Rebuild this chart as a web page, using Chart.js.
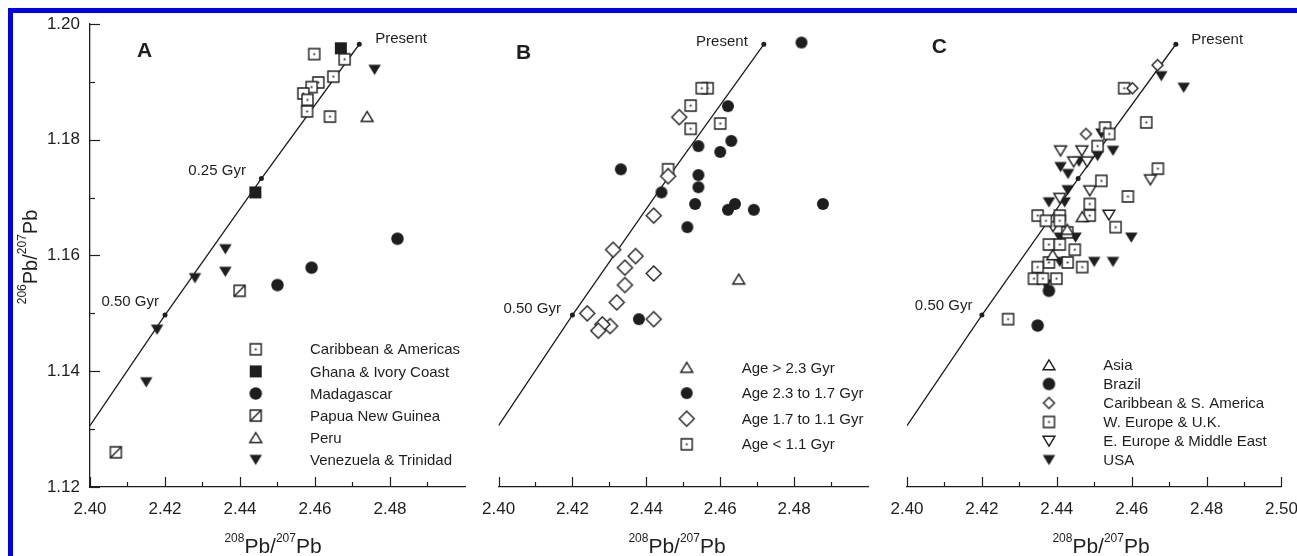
<!DOCTYPE html>
<html>
<head>
<meta charset="utf-8">
<script src="https://cdn.jsdelivr.net/npm/chart.js@4.4.0/dist/chart.umd.min.js"></script>
<style>
  html, body { margin: 0; padding: 0; background: #fff; overflow: hidden; }
  #marco { position: absolute; left: 8px; top: 8px; width: 1300px; height: 560px;
           border-top: 5px solid #0000f0; border-left: 5px solid #0000f0; }
  canvas { position: absolute; top: 0; }
</style>
</head>
<body>
<div id="marco"></div>
<canvas id="panelA" width="480" height="556" style="left:0px"></canvas>
<canvas id="panelB" width="410" height="556" style="left:470px"></canvas>
<canvas id="panelC" width="440" height="556" style="left:870px"></canvas>
<script>
// Límites de los ejes
var rangoX = [2.40, 2.50];
var rangoY = [1.12, 1.20];
var pasoEtiquetas = 0.02;

// Curva de evolución (2.40, 0.50 Gyr, 0.25 Gyr, presente)
var curvaX = [2.400, 2.420, 2.4457, 2.4718];
var curvaY = [1.1306, 1.1497, 1.1733, 1.1965];

// Panel A: por origen
var caribeAmericas = [[2.4598,1.1948],[2.4679,1.1939],[2.4649,1.1909],[2.4609,1.1899],[2.4591,1.1891],
                      [2.4569,1.1880],[2.4580,1.1869],[2.4579,1.1849],[2.4640,1.1840]];
var ghanaCostaMarfil = [[2.4669,1.1958],[2.4441,1.1709]];
var madagascar = [[2.4820,1.1629],[2.4591,1.1579],[2.4500,1.1549]];
var papuaNuevaGuinea = [[2.4399,1.1539],[2.4069,1.1260]];
var peru = [[2.4739,1.1840]];
var venezuelaTrinidad = [[2.4759,1.1921],[2.4361,1.1611],[2.4361,1.1572],[2.4280,1.1561],[2.4179,1.1472],[2.4150,1.1381]];

// Panel B: por edad
var edadMayor23 = [[2.4650,1.1559]];
var edad23a17 = [[2.4820,1.1968],[2.4621,1.1858],[2.4630,1.1798],[2.4541,1.1789],[2.4600,1.1779],[2.4331,1.1749],
                 [2.4541,1.1739],[2.4541,1.1718],[2.4441,1.1709],[2.4532,1.1689],[2.4640,1.1689],[2.4621,1.1679],
                 [2.4691,1.1679],[2.4878,1.1689],[2.4511,1.1649],[2.4380,1.1490]];
var edad17a11 = [[2.4489,1.1839],[2.4459,1.1737],[2.4420,1.1669],[2.4310,1.1610],[2.4371,1.1599],[2.4342,1.1579],
                 [2.4420,1.1569],[2.4342,1.1549],[2.4320,1.1519],[2.4240,1.1500],[2.4302,1.1478],[2.4281,1.1481],
                 [2.4270,1.1470],[2.4420,1.1490]];
var edadMenor11 = [[2.4566,1.1889],[2.4550,1.1889],[2.4520,1.1859],[2.4600,1.1828],[2.4520,1.1819],[2.4459,1.1749]];

// Panel C: por región
var asia = [[2.4468,1.1667],[2.4428,1.1645],[2.4389,1.1601]];
var brasil = [[2.4379,1.1539],[2.4349,1.1479]];
var caribeSudamerica = [[2.4669,1.1929],[2.4602,1.1889],[2.4478,1.1810]];
var europaOccRU = [[2.4580,1.1889],[2.4639,1.1830],[2.4529,1.1821],[2.4540,1.1810],[2.4509,1.1789],[2.4670,1.1750],
                   [2.4519,1.1729],[2.4590,1.1702],[2.4488,1.1689],[2.4349,1.1669],[2.4408,1.1669],[2.4371,1.1660],
                   [2.4408,1.1660],[2.4488,1.1669],[2.4557,1.1649],[2.4428,1.1640],[2.4379,1.1619],[2.4408,1.1619],
                   [2.4448,1.1610],[2.4379,1.1588],[2.4429,1.1588],[2.4468,1.1580],[2.4349,1.1580],[2.4339,1.1560],
                   [2.4363,1.1560],[2.4399,1.1560],[2.4270,1.1490]];
var europaOrMedioOriente = [[2.4410,1.1781],[2.4467,1.1781],[2.4445,1.1762],[2.4481,1.1762],[2.4650,1.1731],
                            [2.4488,1.1712],[2.4408,1.1699],[2.4539,1.1670],[2.4390,1.1650]];
var eeuu = [[2.4679,1.1910],[2.4739,1.1890],[2.4519,1.1811],[2.4550,1.1781],[2.4509,1.1772],[2.4459,1.1762],
            [2.4410,1.1753],[2.4430,1.1741],[2.4429,1.1713],[2.4379,1.1692],[2.4421,1.1692],[2.4599,1.1631],
            [2.4408,1.1631],[2.4450,1.1631],[2.4408,1.1589],[2.4500,1.1589],[2.4550,1.1589],[2.4371,1.1550]];

var FUENTE = '"Liberation Sans", Arial, sans-serif';
var TINTA = '#1e1e1e';
Chart.defaults.font.family = FUENTE;
Chart.defaults.color = TINTA;

// Dibuja un marcador en un canvas pequeño (se usa como pointStyle)
function marcador(tipo, s) {
    var c = document.createElement('canvas');
    var n = Math.ceil(s + 4);
    c.width = n; c.height = n;
    var g = c.getContext('2d');
    var m = n / 2, h = s / 2;
    g.lineWidth = 1.4;
    g.strokeStyle = TINTA;
    g.fillStyle = '#fff';
    g.beginPath();
    switch (tipo) {
        case 'cuadroPunto':
            g.rect(m - h, m - h, s, s); g.fill(); g.stroke();
            g.fillStyle = TINTA; g.fillRect(m - 0.9, m - 0.9, 1.8, 1.8);
            break;
        case 'cuadroLleno':
            g.rect(m - h, m - h, s, s); g.fillStyle = TINTA; g.fill();
            break;
        case 'cuadroDiagonal':
            g.rect(m - h, m - h, s, s); g.fill(); g.stroke();
            g.beginPath(); g.moveTo(m - h, m + h); g.lineTo(m + h, m - h); g.stroke();
            break;
        case 'circulo':
            g.arc(m, m, h, 0, Math.PI * 2); g.fillStyle = TINTA; g.fill();
            break;
        case 'triangulo':
            g.moveTo(m, m - h * 0.85); g.lineTo(m + h, m + h * 0.8); g.lineTo(m - h, m + h * 0.8); g.closePath();
            g.fill(); g.stroke();
            break;
        case 'trianguloAbajo':
            g.moveTo(m - h, m - h * 0.8); g.lineTo(m + h, m - h * 0.8); g.lineTo(m, m + h * 0.85); g.closePath();
            g.fillStyle = TINTA; g.fill();
            break;
        case 'trianguloAbajoAbierto':
            g.moveTo(m - h, m - h * 0.8); g.lineTo(m + h, m - h * 0.8); g.lineTo(m, m + h * 0.85); g.closePath();
            g.fill(); g.stroke();
            break;
        case 'rombo':
            g.moveTo(m, m - h); g.lineTo(m + h, m); g.lineTo(m, m + h); g.lineTo(m - h, m); g.closePath();
            g.fill(); g.stroke();
            break;
    }
    return c;
}

function serie(etiqueta, puntos, estilo) {
    return {
        label: etiqueta,
        data: puntos.map(function (p) { return {x: p[0], y: p[1]}; }),
        pointStyle: estilo,
        pointRadius: 6,
        pointHoverRadius: 6
    };
}

function serieCurva(radios) {
    var puntos = [];
    for (var i = 0; i < curvaX.length; i++) puntos.push({x: curvaX[i], y: curvaY[i]});
    return {
        label: '',
        esCurva: true,
        data: puntos,
        showLine: true,
        tension: 0,
        borderColor: TINTA,
        borderWidth: 1.3,
        pointStyle: 'circle',
        pointRadius: radios,
        pointHoverRadius: radios,
        pointBackgroundColor: TINTA,
        pointBorderWidth: 0
    };
}

// Marcas hacia dentro de los ejes (mayores y menores)
var marcasEjes = {
    id: 'marcasEjes',
    afterDatasetsDraw: function (chart, args, op) {
        var ctx = chart.ctx, area = chart.chartArea;
        var ex = chart.scales.x, ey = chart.scales.y;
        ctx.save();
        ctx.strokeStyle = TINTA;
        ctx.lineWidth = 1.2;
        for (var i = 0; i <= op.ultimaX; i++) {
            var px = Math.round(ex.getPixelForValue(rangoX[0] + i * 0.01)) + 0.5;
            var largo = i % 2 === 0 ? 10 : 5;
            ctx.beginPath(); ctx.moveTo(px, area.bottom); ctx.lineTo(px, area.bottom - largo); ctx.stroke();
        }
        if (op.ejeY) {
            for (var j = 0; j <= 8; j++) {
                var py = Math.round(ey.getPixelForValue(rangoY[0] + j * 0.01)) + 0.5;
                var largoY = j % 2 === 0 ? 10 : 5;
                ctx.beginPath(); ctx.moveTo(area.left, py); ctx.lineTo(area.left + largoY, py); ctx.stroke();
            }
        }
        ctx.restore();
    }
};

// Texto "xxxPb/yyyPb" con superíndices
function textoPlomo(ctx, a, b, cx, base, grande) {
    var fg = grande + 'px ' + FUENTE, fc = '12px ' + FUENTE;
    var piezas = [[a, fc, -11], ['Pb/', fg, 0], [b, fc, -11], ['Pb', fg, 0]];
    var total = 0;
    piezas.forEach(function (p) { ctx.font = p[1]; total += ctx.measureText(p[0]).width; });
    var x = cx - total / 2;
    ctx.textAlign = 'left';
    ctx.textBaseline = 'alphabetic';
    piezas.forEach(function (p) {
        ctx.font = p[1];
        ctx.fillText(p[0], x, base + p[2]);
        x += ctx.measureText(p[0]).width;
    });
}

// Letra del panel, rótulos de la curva y títulos de los ejes
var textosPanel = {
    id: 'textosPanel',
    afterDraw: function (chart, args, op) {
        var ctx = chart.ctx;
        var ex = chart.scales.x, ey = chart.scales.y;
        ctx.save();
        ctx.fillStyle = TINTA;
        ctx.font = 'bold 21px ' + FUENTE;
        ctx.textAlign = 'left';
        ctx.textBaseline = 'alphabetic';
        ctx.fillText(op.letra, op.letraX, op.letraY);

        ctx.font = '15px ' + FUENTE;
        op.rotulos.forEach(function (r) {
            var px = ex.getPixelForValue(curvaX[r.indice]);
            var py = ey.getPixelForValue(curvaY[r.indice]);
            ctx.textAlign = r.alinear;
            ctx.fillText(r.texto, px + r.dx, py + r.dy);
        });

        textoPlomo(ctx, '208', '207', op.tituloX, 553, 21);
        if (op.tituloY) {
            ctx.translate(36.5, 257);
            ctx.rotate(-Math.PI / 2);
            textoPlomo(ctx, '206', '207', 0, 0, 20);
        }
        ctx.restore();
    }
};

// Leyenda dibujada dentro del área del gráfico
var leyendaPanel = {
    id: 'leyendaPanel',
    afterDraw: function (chart, args, op) {
        var ctx = chart.ctx;
        ctx.save();
        ctx.font = '15px ' + FUENTE;
        ctx.fillStyle = TINTA;
        ctx.textAlign = 'left';
        ctx.textBaseline = 'middle';
        var fila = 0;
        chart.data.datasets.forEach(function (d) {
            if (d.esCurva) return;
            var y = op.y0 + fila * op.paso;
            var img = d.pointStyle;
            ctx.drawImage(img, op.marcaX - img.width / 2, y - img.height / 2);
            ctx.fillText(d.label, op.textoX, y + 1);
            fila++;
        });
        ctx.restore();
    }
};

Chart.register(marcasEjes, textosPanel, leyendaPanel);

function opciones(p) {
    return {
        responsive: false,
        animation: false,
        events: [],
        layout: { padding: { top: 24, left: p.padIzq, right: p.padDer, bottom: 0 } },
        scales: {
            x: {
                type: 'linear', min: rangoX[0], max: rangoX[1],
                afterFit: function (s) { s.height = 69; },
                border: { display: true, color: TINTA, width: 1.3 },
                grid: { display: false, drawTicks: false },
                ticks: {
                    stepSize: pasoEtiquetas, autoSkip: false, maxRotation: 0, padding: 12,
                    font: { size: 17 }, color: TINTA,
                    callback: function (v) { return (v > 2.495 && !p.etiqueta250) ? '' : v.toFixed(2); }
                }
            },
            y: {
                type: 'linear', min: rangoY[0], max: rangoY[1], display: p.ejeY,
                // solo el panel A reserva sitio para el eje vertical
                afterFit: function (s) { s.width = p.ejeY ? 90 : 0; },
                border: { display: true, color: TINTA, width: 1.3 },
                grid: { display: false, drawTicks: false },
                ticks: {
                    stepSize: pasoEtiquetas, autoSkip: false, padding: 10,
                    font: { size: 17 }, color: TINTA,
                    callback: function (v) { return v.toFixed(2); }
                }
            }
        },
        plugins: {
            legend: { display: false },
            tooltip: { enabled: false },
            marcasEjes: { ultimaX: p.etiqueta250 ? 10 : 9, ejeY: p.ejeY },
            textosPanel: p.textos,
            leyendaPanel: p.leyenda
        }
    };
}

// Panel A
new Chart(document.getElementById('panelA'), {
    type: 'scatter',
    data: { datasets: [
        serie('Caribbean & Americas', caribeAmericas, marcador('cuadroPunto', 11)),
        serie('Ghana & Ivory Coast', ghanaCostaMarfil, marcador('cuadroLleno', 12)),
        serie('Madagascar', madagascar, marcador('circulo', 12.5)),
        serie('Papua New Guinea', papuaNuevaGuinea, marcador('cuadroDiagonal', 11)),
        serie('Peru', peru, marcador('triangulo', 12)),
        serie('Venezuela & Trinidad', venezuelaTrinidad, marcador('trianguloAbajo', 12.5)),
        serieCurva([0, 2.5, 2.5, 2.5])
    ]},
    options: opciones({
        padIzq: 0, padDer: 15, ejeY: true, etiqueta250: false,
        textos: {
            letra: 'A', letraX: 137, letraY: 57, tituloX: 273, tituloY: true,
            rotulos: [
                {indice: 3, texto: 'Present', alinear: 'left', dx: 16, dy: -1},
                {indice: 2, texto: '0.25 Gyr', alinear: 'right', dx: -15.5, dy: -4},
                {indice: 1, texto: '0.50 Gyr', alinear: 'right', dx: -6, dy: -9.5}
            ]
        },
        leyenda: { marcaX: 255.7, textoX: 310, y0: 349.3, paso: 22.1 }
    })
});

// Panel B
new Chart(document.getElementById('panelB'), {
    type: 'scatter',
    data: { datasets: [
        serie('Age > 2.3 Gyr', edadMayor23, marcador('triangulo', 12)),
        serie('Age 2.3 to 1.7 Gyr', edad23a17, marcador('circulo', 12)),
        serie('Age 1.7 to 1.1 Gyr', edad17a11, marcador('rombo', 15)),
        serie('Age < 1.1 Gyr', edadMenor11, marcador('cuadroPunto', 11)),
        serieCurva([0, 2.5, 2.5, 2.5])
    ]},
    options: opciones({
        padIzq: 28.3, padDer: 9, ejeY: false, etiqueta250: false,
        textos: {
            letra: 'B', letraX: 46, letraY: 59, tituloX: 207, tituloY: false,
            rotulos: [
                {indice: 3, texto: 'Present', alinear: 'right', dx: -16, dy: 2},
                {indice: 1, texto: '0.50 Gyr', alinear: 'right', dx: -11.5, dy: -2}
            ]
        },
        leyenda: { marcaX: 216.7, textoX: 271.7, y0: 367.5, paso: 25.6 }
    })
});

// Panel C
new Chart(document.getElementById('panelC'), {
    type: 'scatter',
    data: { datasets: [
        serie('Asia', asia, marcador('triangulo', 12)),
        serie('Brazil', brasil, marcador('circulo', 12.5)),
        serie('Caribbean & S. America', caribeSudamerica, marcador('rombo', 11)),
        serie('W. Europe & U.K.', europaOccRU, marcador('cuadroPunto', 11)),
        serie('E. Europe & Middle East', europaOrMedioOriente, marcador('trianguloAbajoAbierto', 12)),
        serie('USA', eeuu, marcador('trianguloAbajo', 12.5)),
        serieCurva([0, 2.5, 2.5, 2.5])
    ]},
    options: opciones({
        padIzq: 37, padDer: 28, ejeY: false, etiqueta250: true,
        textos: {
            letra: 'C', letraX: 61.7, letraY: 53, tituloX: 231, tituloY: false,
            rotulos: [
                {indice: 3, texto: 'Present', alinear: 'left', dx: 15.5, dy: 0},
                {indice: 1, texto: '0.50 Gyr', alinear: 'right', dx: -9.5, dy: -5}
            ]
        },
        leyenda: { marcaX: 179, textoX: 233.3, y0: 365, paso: 19 }
    })
});
</script>
</body>
</html>
